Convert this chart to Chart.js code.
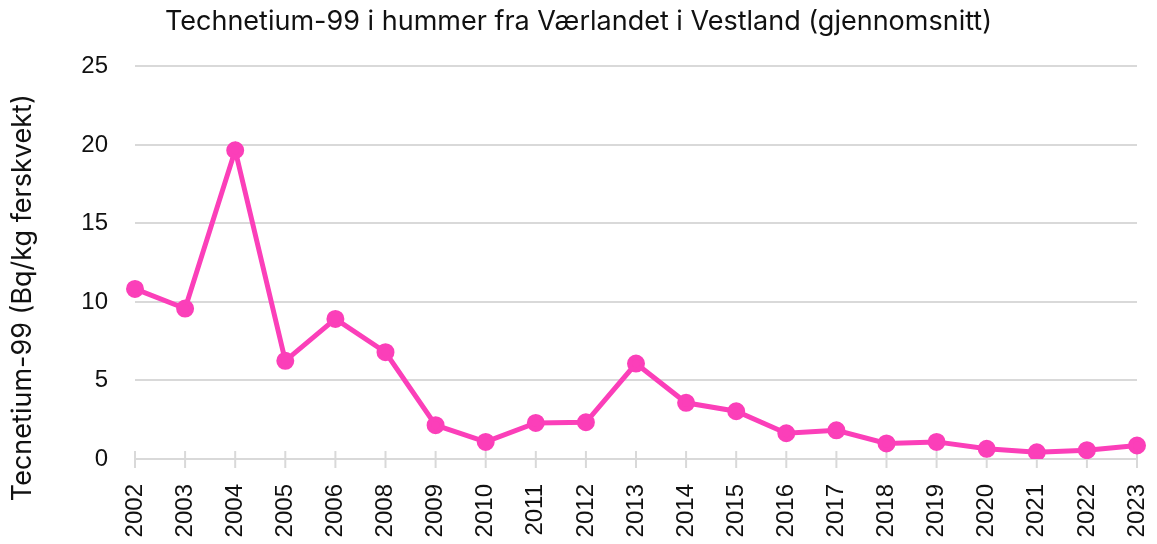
<!DOCTYPE html>
<html>
<head>
<meta charset="utf-8">
<script src="https://cdn.jsdelivr.net/npm/chart.js@4"></script>
<style>
  html, body { margin: 0; padding: 0; background: #fff; }
  #wrap { width: 1157px; height: 544px; }
</style>
</head>
<body>
<div id="wrap"><canvas id="lineChart"></canvas></div>
<script>
const years = ["2002", "2003", "2004", "2005", "2006", "2008", "2009", "2010", "2011", "2012",
  "2013", "2014", "2015", "2016", "2017", "2018", "2019", "2020", "2021", "2022", "2023"];
const tc99 = [10.83, 9.58, 19.66, 6.25, 8.92, 6.8, 2.15, 1.09, 2.3, 2.34,
  6.08, 3.58, 3.04, 1.64, 1.83, 0.99, 1.09, 0.65, 0.43, 0.56, 0.86];
const yTicks = [0, 5, 10, 15, 20, 25];
const yTitle = "Tecnetium-99 (Bq/kg ferskvekt)";

const pink = "#fb3fb9";
const gridGrey = "#d9d9d9";
const textColor = "#111";

// tick marks that cross the x axis line
const crossTicks = {
  id: "crossTicks",
  beforeDatasetsDraw(chart) {
    const xScale = chart.scales.x;
    const ctx = chart.ctx;
    const base = chart.chartArea.bottom;
    ctx.save();
    ctx.strokeStyle = gridGrey;
    ctx.lineWidth = 2;
    for (let i = 0; i < xScale.ticks.length; i++) {
      const px = xScale.getPixelForTick(i);
      ctx.beginPath();
      ctx.moveTo(px, base - 8);
      ctx.lineTo(px, base + 9);
      ctx.stroke();
    }
    ctx.restore();
  },
};

// y axis title, sits a bit lower than the chart area centre in the original
const sideTitle = {
  id: "sideTitle",
  afterDraw(chart) {
    const ctx = chart.ctx;
    const area = chart.chartArea;
    ctx.save();
    ctx.translate(23, (area.top + area.bottom) / 2 + 35);
    ctx.rotate(-Math.PI / 2);
    ctx.fillStyle = textColor;
    ctx.font = "27px Inter";
    ctx.textAlign = "center";
    ctx.textBaseline = "middle";
    ctx.fillText(yTitle, 0, 0);
    ctx.restore();
  },
};

const config = {
  type: "line",
  data: {
    labels: years,
    datasets: [
      {
        label: "Tc-99",
        data: tc99,
        borderColor: pink,
        backgroundColor: pink,
        borderWidth: 5,
        pointRadius: 6.5,
        pointHoverRadius: 6.5,
        tension: 0,
      },
    ],
  },
  options: {
    responsive: true,
    maintainAspectRatio: false,
    animation: false,
    layout: { padding: { left: 0, right: 0, top: 4, bottom: 0 } },
    plugins: {
      legend: { display: false },
      tooltip: { enabled: false },
      title: {
        display: true,
        text: "Technetium-99 i hummer fra Værlandet i Vestland (gjennomsnitt)",
        color: textColor,
        font: { family: "Inter", size: 27, weight: "normal" },
        padding: { top: 2, bottom: 28 },
      },
    },
    scales: {
      x: {
        offset: false,
        grid: { display: false },
        border: { display: true, color: gridGrey, width: 2 },
        afterFit(scale) {
          scale.paddingRight = 20;
          scale.height = 85;
        },
        ticks: {
          color: textColor,
          font: { family: "Liberation Sans", size: 24 },
          minRotation: 90,
          maxRotation: 90,
          padding: 17,
          autoSkip: false,
        },
      },
      y: {
        min: 0,
        max: 25,
        afterBuildTicks(scale) {
          scale.ticks = yTicks.map((v) => ({ value: v }));
        },
        afterFit(scale) {
          scale.width = 135;
        },
        grid: { color: gridGrey, lineWidth: 2, drawTicks: false },
        border: { display: false },
        ticks: {
          color: textColor,
          font: { family: "Liberation Sans", size: 24 },
          padding: 27,
        },
      },
    },
  },
  plugins: [crossTicks, sideTitle],
};

new Chart(document.getElementById("lineChart"), config);
</script>
</body>
</html>
